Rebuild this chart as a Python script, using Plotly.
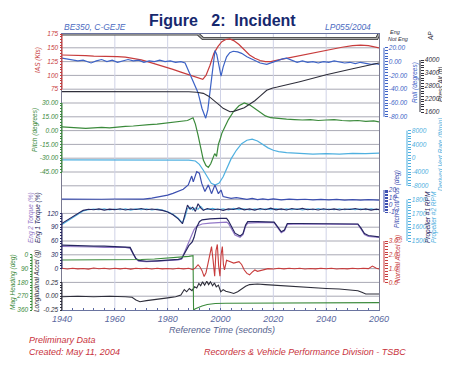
import numpy as np
import plotly.graph_objects as go

# ---------------- data ----------------
X_TICKS = [1940, 1960, 1980, 2000, 2020, 2040, 2060]

IAS_T = [1940, 1943, 1946, 1949, 1952, 1955, 1958, 1961, 1964, 1967, 1970, 1973, 1976, 1979, 1982, 1985, 1988,
         1991, 1993.3, 1994.5, 1996, 1997.5, 1999, 2000.5, 2002, 2003.5, 2005, 2007, 2009, 2011, 2013, 2015, 2017,
         2019, 2022, 2026, 2030, 2034, 2038, 2042, 2046, 2050, 2053, 2056, 2060]
IAS_V = [137, 137, 136, 136, 135, 135, 134, 134, 133, 131, 128, 124, 120, 116, 111, 106, 101,
         96, 93, 100, 118, 140, 152, 161, 165, 166, 163, 156, 146, 137, 131, 127, 125,
         125, 128, 132, 136, 140, 144, 148, 151, 154, 155, 154, 150]

ROLL_T = [1940, 1942, 1944, 1946, 1948, 1950, 1951, 1953, 1955, 1957, 1959, 1961, 1963, 1965, 1967, 1969, 1971,
          1973, 1975, 1977, 1979, 1981, 1983, 1985, 1986.6, 1988.4, 1990, 1991.5, 1993, 1994.4, 1995.2, 1996,
          1996.7, 1997.3, 1997.9, 1998.6, 1999.4, 2000.2, 2001, 2002.3, 2003.5, 2004.8, 2006.5, 2008, 2010, 2012,
          2013.5, 2015, 2017.5, 2019.5, 2021.5, 2023.5, 2025, 2027, 2029, 2031, 2033, 2035, 2037, 2039, 2041,
          2043, 2045, 2047, 2049, 2051, 2053, 2055, 2057, 2059, 2060]
ROLL_V = [5, 4, 3, 1, 2, -1, -2, 1, 3, 0, 2, -1, 1, 3, 1, 2, -1,
          1, 0, 2, 0, 1, -1, 0, -2, -18, -32, -45, -68, -82, -70, -45,
          -26, 0, 16, 10, -8, -21, -8, 7, 13, 15, 14, 12, 7, 3,
          0, -2, -4, -1, 2, 4, 5, 2, -1, 1, -1, 0, -2, 0, -1,
          1, -1, -2, -1, -3, -1, -3, -4, -3, -4]

ALT_T = [1940, 1960, 1980, 1988, 1991, 1993.5, 1995.5, 1997.5, 1999.5, 2001, 2002.5, 2003.6, 2005, 2007, 2009,
         2011, 2013, 2015, 2017.5, 2019.5, 2021.5, 2030, 2040, 2050, 2060]
ALT_V = [2540, 2545, 2540, 2535, 2510, 2460, 2330, 2150, 1930, 1770, 1660, 1615, 1630, 1700, 1800,
         1960, 2120, 2330, 2600, 2700, 2750, 3000, 3320, 3600, 3860]

PITCH_T = [1940, 1943, 1946, 1949, 1952, 1955, 1958, 1961, 1964, 1967, 1970, 1973, 1976, 1979, 1982, 1985,
           1987.5, 1989.6, 1990.5, 1991.5, 1992.5, 1993.5, 1994.5, 1995.4, 1996.3, 1997, 1997.8, 1998.5, 1999.2,
           2000, 2000.5, 2001.5, 2003, 2005, 2007, 2009, 2011, 2013, 2015, 2017, 2019, 2022, 2025, 2028, 2031,
           2034, 2037, 2040, 2043, 2046, 2049, 2052, 2055, 2058, 2060]
PITCH_V = [4, 3.5, 3, 2.5, 3, 3.5, 3, 4, 4.5, 5, 6, 6.5, 7, 8, 8.5, 9.5,
           11, 14, 7, -5, -18, -32, -38, -40, -36, -30, -25, -28, -15,
           -8, -3, 3, 12, 21, 27, 30, 28, 24, 20, 16, 14, 13, 12.5, 12, 11.5,
           12, 11, 11.5, 12, 11, 10.5, 11, 10, 10.5, 9.5]

VS_T = [1940, 1950, 1960, 1970, 1980, 1988, 1990.5, 1992, 1993.5, 1995, 1996.5, 1998, 1999.5, 2001, 2002.5,
        2004, 2006, 2008, 2010, 2012, 2014, 2016, 2018, 2020, 2022, 2025, 2030, 2035, 2040, 2045, 2050, 2055, 2060]
VS_V = [-500, -550, -500, -550, -500, -550, -800, -1800, -3500, -5500, -7300, -7800, -7200, -5400, -2800,
        -200, 2300, 4200, 5200, 5500, 5000, 4000, 3000, 2300, 1900, 1600, 1300, 1200, 1300, 1200, 1400, 1300, 1500]

PCP_T = [1940, 1945, 1950, 1955, 1960, 1965, 1970.8, 1974, 1977, 1980, 1982, 1984, 1985.9, 1987.8, 1989.1,
         1989.7, 1991, 1992, 1992.9, 1994.1, 1995.4, 1996.6, 1997.9, 1999.2, 2000.2, 2001, 2002.3, 2004, 2006,
         2008, 2010, 2012, 2014, 2016, 2018, 2020, 2023, 2026, 2029, 2032, 2035, 2038, 2041, 2044, 2047, 2050,
         2053, 2056, 2060]
PCP_V = [7.6, 7.2, 7.8, 7.4, 7.7, 7.3, 7.6, 9, 10.8, 13, 15.4, 18, 21, 27, 39,
         31, 45, 43, 29, 18, 27, 15, 27, 15, 20, 11, 10, 8.5, 9.5,
         8, 7.2, 8.5, 7, 8, 6.8, 7.8, 6.5, 7.6, 6.8, 7.4, 6.4, 7.2, 6.6, 7.3, 6.2, 7,
         6.3, 6.8, 6.2]

RPM_T = [1940, 1942, 1944, 1946, 1948, 1950, 1952, 1954, 1956, 1958, 1960, 1962, 1964, 1966, 1968, 1970, 1972,
         1974, 1976, 1978, 1980, 1982, 1984, 1985.6, 1986.5, 1987.5, 1988.5, 1989.5, 1990.5, 1991.5, 1992.5,
         1993.5, 1995, 1997, 1999, 2001, 2003, 2005, 2007, 2009, 2011, 2013, 2015, 2017, 2019, 2021, 2023, 2025,
         2027, 2029, 2031, 2033, 2035, 2037, 2039, 2041, 2043, 2045, 2047, 2049, 2051, 2053, 2055, 2057, 2059, 2060]
RPM1_V = [1628, 1650, 1675, 1700, 1722, 1730, 1726, 1733, 1724, 1731, 1727, 1734, 1725, 1732, 1728, 1735, 1726,
          1732, 1729, 1722, 1710, 1690, 1660, 1625, 1690, 1760, 1730, 1745, 1715, 1770, 1740,
          1722, 1735, 1725, 1732, 1722, 1733, 1728, 1740, 1726, 1733, 1724, 1735, 1727, 1738, 1726, 1733, 1725,
          1735, 1728, 1736, 1726, 1732, 1725, 1734, 1727, 1733, 1725, 1732, 1728, 1735, 1726, 1733, 1724, 1731, 1727]
RPM2_V = [1620, 1644, 1670, 1696, 1718, 1727, 1731, 1726, 1734, 1725, 1732, 1726, 1733, 1724, 1733, 1727, 1734,
          1725, 1731, 1724, 1712, 1694, 1665, 1630, 1670, 1735, 1745, 1725, 1740, 1730, 1752,
          1730, 1728, 1736, 1726, 1734, 1725, 1736, 1727, 1734, 1725, 1733, 1726, 1734, 1727, 1735, 1726, 1733,
          1727, 1734, 1725, 1733, 1727, 1735, 1726, 1732, 1726, 1734, 1727, 1733, 1726, 1734, 1727, 1733, 1726, 1730]

TQ_T = [1940, 1944, 1948, 1952, 1956, 1960, 1964, 1965.8, 1967, 1968, 1969, 1972, 1976, 1980, 1984, 1985.3,
        1986, 1987, 1988, 1989.3, 1990, 1991, 1992, 1993, 1996, 2000, 2002.3, 2003, 2004, 2005.5, 2007.4,
        2008.5, 2009.5, 2010.3, 2014, 2018, 2020.3, 2021.5, 2023, 2024.2, 2025.3, 2030, 2040, 2050, 2052,
        2053.2, 2054.5, 2056, 2060]
TQ1_V = [51, 50, 50, 49, 49, 48, 48, 46, 32, 22, 18, 16, 17, 18, 20, 22,
         30, 42, 50, 58, 68, 90, 102, 106, 108, 109, 109, 104, 92, 77, 71,
         76, 95, 102, 102, 102, 101, 92, 80, 84, 98, 98, 98, 98, 97,
         88, 76, 72, 69]
TQ2_V = [48, 48, 47, 47, 46, 46, 46, 44, 30, 21, 16, 15, 16, 17, 19, 21,
         31, 46, 58, 75, 85, 92, 95, 97, 99, 100, 101, 98, 88, 73, 68,
         74, 92, 99, 100, 101, 100, 90, 78, 82, 96, 97, 97, 97, 96,
         86, 74, 70, 68]

NACC_T = [1940, 1942, 1944, 1946, 1948, 1950, 1952, 1954, 1956, 1958, 1960, 1962, 1964, 1966, 1968, 1970, 1972,
          1974, 1976, 1978, 1980, 1982, 1984, 1986, 1988, 1989.5, 1990.5, 1991.5, 1992.3, 1993, 1993.8, 1994.5,
          1995.3, 1996, 1996.6, 1997.2, 1997.8, 1998.3, 1998.8, 1999.3, 1999.8, 2000.2, 2000.7, 2001.1, 2001.5,
          2002.3, 2003, 2004, 2005, 2006, 2007, 2008, 2009, 2010, 2011, 2012, 2013, 2014, 2015, 2016, 2018,
          2020, 2022, 2024, 2026, 2028, 2030, 2032, 2034, 2036, 2038, 2040, 2042, 2044, 2046, 2048, 2050, 2052,
          2054, 2056, 2057.5, 2059, 2060]
NACC_V = [1.02, 0.97, 1.03, 0.98, 1.01, 0.96, 1.04, 0.99, 1.02, 0.97, 1.03, 0.98, 1.02, 0.96, 1.03, 0.99, 1.02,
          0.97, 1.03, 0.98, 1.01, 0.97, 1.03, 0.98, 1.02, 0.92, 1.05, 1.28, 1.1, 0.85, 0.42, 0.7,
          1.4, 2.1, 2.6, 1.6, 0.45, 2.3, 2.75, 1.2, 0.45, 2.0, 2.6, 1.3, 0.9,
          1.6, 1.55, 1.5, 1.4, 1.45, 1.5, 1.3, 0.9, 0.65, 0.55, 0.75, 0.9, 0.8, 0.85, 0.95, 1.0,
          0.97, 1.02, 0.98, 1.03, 0.99, 1.02, 0.97, 1.01, 0.98, 1.03, 0.99, 1.02, 0.97, 1.01, 0.98, 1.02, 0.99,
          1.03, 1.0, 1.18, 1.02, 0.98]

HDG_T = [1940, 1950, 1960, 1966, 1970, 1975, 1980, 1985, 1988, 1989.6, 1989.8, 1990.5, 1991.5, 1993, 1995,
         1998, 2002, 2010, 2020, 2030, 2040, 2050, 2060]
HDG_V = [34, 34, 33, 34, 31, 27, 22, 15, 10, 6, 360, 352, 344, 334, 324,
         318, 316, 315, 314, 313, 313, 312, 312]

LACC_T = [1940, 1946, 1952, 1958, 1964, 1966.5, 1968, 1969.5, 1972, 1976, 1980, 1983, 1985, 1986.3, 1987.2,
          1988.2, 1989.2, 1990.2, 1991, 1991.8, 1992.5, 1993.2, 1994, 1994.8, 1995.5, 1996.2, 1997, 1997.7,
          1998.4, 1999.2, 2000.1, 2001, 2002, 2003.5, 2005, 2006.5, 2008, 2009.5, 2011, 2014, 2017, 2020, 2025,
          2030, 2035, 2040, 2045, 2050, 2052, 2053.5, 2055, 2058, 2060]
LACC_V = [-0.01, 0.0, -0.01, 0.0, -0.01, -0.02, -0.07, -0.1, -0.08, -0.06, -0.03, -0.01, 0.02, 0.12, 0.08,
          0.14, 0.1, 0.17, 0.15, 0.23, 0.19, 0.26, 0.2, 0.27, 0.21, 0.26, 0.19, 0.24,
          0.17, 0.2, 0.08, 0.12, 0.09, 0.07, 0.05, 0.08, 0.13, 0.18, 0.21, 0.22, 0.21, 0.2, 0.18,
          0.17, 0.15, 0.14, 0.13, 0.11, 0.1, 0.07, 0.04, 0.04, 0.04]

AP_T = [1940, 1991.5, 1993.3, 2059.2, 2060]
AP_V = [1, 1, 0, 0, 1]

IAS_TICKS = [175, 150, 125, 100, 75]
PITCH_TICKS = [30, 15, 0, -15, -30, -45]
TORQUE_TICKS = [120, 90, 60, 30, 0]
HDG_TICKS = [0, 90, 180, 270, 360]
LACC_TICKS = [0.25, 0.0, -0.25]
ROLL_TICKS = [20, 0, -20, -40, -60, -80]
ALT_TICKS = [4000, 3400, 2800, 2200, 1600]
VS_TICKS = [8000, 4000, 0, -4000, -8000]
PCP_TICKS = [20, 10, 0, -10]
RPM_TICKS = [1800, 1700, 1600, 1500]
NACC_TICKS = [3.0, 2.0, 1.0, 0.0]
AP_LABELS = ["Eng", "Not Eng"]

# ---------------- layout helpers ----------------
W, H = 450, 370
OFF = 8          # the page body adds an 8 px margin; positions below are window pixels
PX_L, PX_R, PX_T, PX_B = 62, 379, 34, 310
N_GRID = 20
FONT = "Liberation Sans"
TICK_SIZE = 6.5


def px_x(p):
    return (p - OFF) / W


def px_y(p):
    return 1 - (p - OFF) / H


DOM_X = [px_x(PX_L), px_x(PX_R)]
DOM_Y = [px_y(PX_B), px_y(PX_T)]


def axis_range(vtop, ptop, vbot, pbot):
    s = (vtop - vbot) / (pbot - ptop)
    return [vbot - (PX_B - pbot) * s, vtop + (ptop - PX_T) * s]


fig = go.Figure()

x_minor = list(range(1940, 2061, 4))
layout = dict(
    width=W, height=H, autosize=False, margin=dict(l=0, r=0, t=0, b=0, pad=0, autoexpand=False),
    paper_bgcolor="white", plot_bgcolor="white", showlegend=False,
    font=dict(family=FONT, size=7),
    xaxis=dict(domain=DOM_X, range=[1940, 2060], anchor="y", automargin=False,
               tickmode="array", tickvals=x_minor,
               ticktext=[str(v) if v in X_TICKS else "" for v in x_minor],
               showgrid=False, zeroline=False,
               ticks="inside", ticklen=2, tickcolor="#5a68a0",
               showline=True, linecolor="#6a74a0", linewidth=1, mirror=True,
               tickfont=dict(family=FONT, size=9, color="#5a68a0", style="italic")),
    # base axis carries the autopilot (AP) state
    yaxis=dict(domain=DOM_Y, range=axis_range(1, 34, 0, 38.5), automargin=False,
               showgrid=False, zeroline=False, showticklabels=False,
               ticks="", showline=True, linecolor="#7a7a90", linewidth=1, mirror=True),
)

shapes = []
annotations = []
axis_counter = [1]

# grid (decoration): horizontal every 1/20 of the height, vertical at labelled times
for k in range(1, N_GRID):
    yy = px_y(PX_T + k * (PX_B - PX_T) / N_GRID)
    shapes.append(dict(type="line", xref="paper", yref="paper", x0=DOM_X[0], x1=DOM_X[1], y0=yy, y1=yy,
                       line=dict(color="#a9a9b4", width=1), layer="below"))
for xv in X_TICKS[1:-1]:
    shapes.append(dict(type="line", xref="x", yref="paper", x0=xv, x1=xv, y0=DOM_Y[0], y1=DOM_Y[1],
                       line=dict(color="#cfd2e6", width=1), layer="below"))


def add_axis(vtop, ptop, vbot, pbot, pos_px, side, color, ticks, fmt, nminor=5):
    axis_counter[0] += 1
    n = axis_counter[0]
    ax = dict(overlaying="y", anchor="free", position=px_x(pos_px), side=side, automargin=False,
              range=axis_range(vtop, ptop, vbot, pbot), showgrid=False, zeroline=False, showline=False)
    vals, txt = [], []
    for i, a in enumerate(ticks):
        vals.append(a)
        txt.append(fmt.format(a))
        if i < len(ticks) - 1:
            for m in np.linspace(a, ticks[i + 1], nminor + 1)[1:-1]:
                vals.append(float(m))
                txt.append("")
    ax.update(tickmode="array", tickvals=vals, ticktext=txt, ticks="outside", ticklen=2.5,
              tickwidth=1, tickcolor=color,
              tickfont=dict(family=FONT, size=TICK_SIZE, color=color, style="italic"))
    shapes.append(dict(type="line", xref="paper", yref="y%d" % n,
                       x0=px_x(pos_px), x1=px_x(pos_px), y0=ticks[0], y1=ticks[-1],
                       line=dict(color=color, width=1)))
    layout["yaxis%d" % n] = ax
    return "y%d" % n


C_RED = "#c83c3c"
C_BLUE = "#3d63c6"
C_DARK = "#2e2e3a"
C_GREEN = "#3b8a3b"
C_LBLUE = "#4fb0e0"
C_PCP = "#3c4fb0"
C_NAVY = "#262660"
C_PURPLE = "#9378c8"

y_ias = add_axis(175, 34, 75, 89.2, PX_L, "left", C_RED, IAS_TICKS, "{:d}")
y_pitch = add_axis(30, 103, -45, 172, PX_L, "left", C_GREEN, PITCH_TICKS, "{:.2f}")
y_tq = add_axis(120, 213.4, 0, 268.6, PX_L, "left", C_NAVY, TORQUE_TICKS, "{:d}")
y_lacc = add_axis(0.25, 282.4, -0.25, 310, PX_L, "left", C_DARK, LACC_TICKS, "{:.2f}")
y_hdg = add_axis(0, 254.8, 360, 310, 32, "left", C_GREEN, HDG_TICKS, "{:d}")
y_roll = add_axis(20, 47.8, -80, 116.8, 384, "right", C_BLUE, ROLL_TICKS, "{:.2f}")
y_alt = add_axis(4000, 60, 1600, 112, 420, "right", C_DARK, ALT_TICKS, "{:d}")
y_vs = add_axis(8000, 130.6, -8000, 185.8, 407, "right", C_LBLUE, VS_TICKS, "{:d}")
y_pcp = add_axis(20, 190, -10, 212, 384, "right", C_PCP, PCP_TICKS, "{:d}")
y_rpm = add_axis(1800, 199.6, 1500, 241, 407, "right", C_LBLUE, RPM_TICKS, "{:d}")
y_nacc = add_axis(3.0, 241, 0.0, 282.4, 384, "right", C_RED, NACC_TICKS, "{:.1f}")


def line(t, v, yax, color, width=1.2):
    fig.add_trace(go.Scatter(x=t, y=v, yaxis=yax, mode="lines",
                             line=dict(color=color, width=width), hoverinfo="skip"))


line(AP_T, AP_V, "y", "#3a3a3a", 3.2)
line(AP_T, AP_V, "y", "#a8a8a8", 1.4)
line(ALT_T, ALT_V, y_alt, C_DARK, 1.1)
line(IAS_T, IAS_V, y_ias, C_RED, 1.2)
line(ROLL_T, ROLL_V, y_roll, C_BLUE, 1.2)
line(PITCH_T, PITCH_V, y_pitch, C_GREEN, 1.2)
line(VS_T, VS_V, y_vs, C_LBLUE, 1.2)
line(PCP_T, PCP_V, y_pcp, C_PCP, 1.2)
line(RPM_T, RPM2_V, y_rpm, C_LBLUE, 1.1)
line(RPM_T, RPM1_V, y_rpm, C_NAVY, 1.1)
line(TQ_T, TQ2_V, y_tq, C_PURPLE, 1.2)
line(TQ_T, TQ1_V, y_tq, C_NAVY, 1.2)
line(NACC_T, NACC_V, y_nacc, C_RED, 1.1)
line(HDG_T, HDG_V, y_hdg, C_GREEN, 1.1)
line(LACC_T, LACC_V, y_lacc, C_DARK, 1.1)


def text(s, x, y, color, size=6, angle=0, xanchor="center"):
    annotations.append(dict(text=s, x=px_x(x), y=px_y(y), xref="paper", yref="paper",
                            showarrow=False, textangle=angle, xanchor=xanchor, yanchor="middle",
                            font=dict(family=FONT, size=size, color=color)))


def itext(s, *a, **k):
    text("<i>" + s + "</i>", *a, **k)


# axis titles
itext("IAS (Kts)", 38, 60, C_RED, 6.5, -90)
itext("Pitch (degrees)", 35, 130, C_GREEN, 6.5, -90)
itext("Eng 2 Torque (%)", 31, 218, C_PURPLE, 6.5, -90)
itext("Eng 1 Torque (%)", 38, 218, C_NAVY, 6.5, -90)
itext("Mag Heading (deg)", 13, 282, C_GREEN, 6.5, -90)
itext("Longitudinal Accel (g)", 37, 281, C_DARK, 6.5, -90)
itext("Roll (degrees)", 415, 83, C_BLUE, 6.5, -90)
itext("Press Alt (ft)", 441, 84, C_DARK, 6.5, -90)
itext("AP", 430, 36, C_DARK, 6.5, -90)
itext(AP_LABELS[0], 395, 32, C_DARK, 5.5)
itext(AP_LABELS[1], 398, 39, C_DARK, 5.5)
itext("Derived Vert Rate (ft/min)", 441, 155, C_LBLUE, 6.5, -90)
itext("Pitch Cntl Pos (deg)", 397, 199, C_PCP, 6.5, -90)
itext("Propeller #1 RPM", 428, 217, C_NAVY, 6.5, -90)
itext("Propeller #2 RPM", 434, 217, C_LBLUE, 6.5, -90)
itext("Normal Accel (g)", 398, 259, C_RED, 6.5, -90)

# headers / footers
text("<b>Figure\u00a0\u00a0 2:\u00a0 Incident</b>", 222, 20, "#16286e", 16)
itext("BE350, C-GEJE", 62, 27, "#4b6bbf", 8.5, xanchor="left")
itext("LP055/2004", 373, 27, "#4b6bbf", 8.5, xanchor="right")
itext("Reference Time (seconds)", 222, 330, "#55628e", 9)
itext("Preliminary Data", 27, 340, "#c8323c", 9, xanchor="left")
itext("Created: May 11, 2004", 27, 352, "#c8323c", 9, xanchor="left")
itext("Recorders & Vehicle Performance Division - TSBC", 202, 352, "#c8323c", 9, xanchor="left")

layout["shapes"] = shapes
layout["annotations"] = annotations
fig.update_layout(**layout)
fig.write_html("out.html")
